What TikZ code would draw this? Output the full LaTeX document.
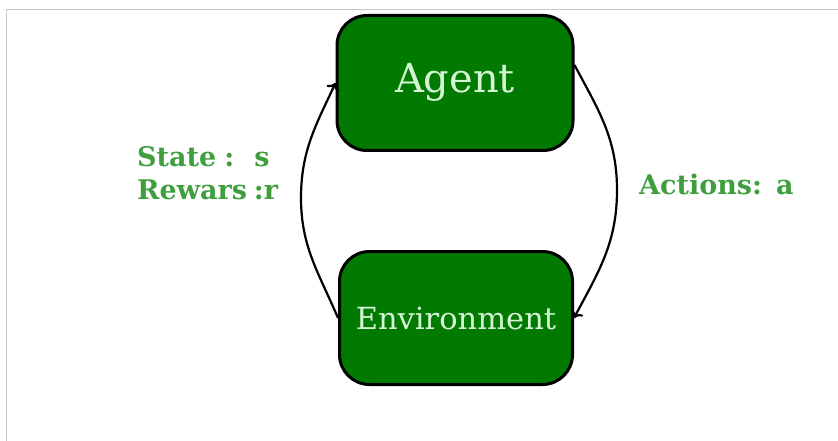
\documentclass[tikz,border=0pt]{standalone}
\usepackage{fontspec}
\setmainfont{DejaVu Serif}
\usetikzlibrary{arrows.meta}
\definecolor{boxgreen}{HTML}{027A02}
\definecolor{boxtext}{HTML}{D4F5D4}
\definecolor{labelgreen}{HTML}{3F9F3F}
\definecolor{framegray}{HTML}{C8C8C8}
\tikzset{
  block/.style={draw=black, line width=3pt, fill=boxgreen, rounded corners=30pt,
    text=boxtext, inner sep=0pt, align=center},
  lbl/.style={text=labelgreen, font=\bfseries\fontsize{27}{30}\selectfont, inner sep=0pt, anchor=base west},
  link/.style={draw=black, line width=2.2pt, -{To[length=7pt,width=14pt]}}
}
\begin{document}
\begin{tikzpicture}[x=1pt,y=-1pt]
\useasboundingbox (0,0) rectangle (838,441);
\draw[framegray, line width=1pt] (6,441) -- (6,10) -- (838,10);
\node[block, minimum width=236pt, minimum height=135pt, font=\fontsize{40}{42}\selectfont] (agent) at (455,83) {\raisebox{10pt}{Agent}};
\node[block, minimum width=233pt, minimum height=133pt, font=\fontsize{30.5}{33}\selectfont] (env) at (456,318) {\raisebox{-6pt}{Environment}};
\coordinate (lmid) at (301,198);
\coordinate (rmid) at (617,190);
\coordinate (aout) at ([yshift=18pt]agent.east);
\draw[link] (env.west) to[out=113,in=-90] (lmid) to[out=90,in=-115] (agent.west);
\draw[link] (aout) to[out=-62,in=90] (rmid) to[out=-90,in=62] (env.east);
\node[lbl] (state) at (137,166) {State\hspace{8pt}:\hspace{20pt}s};
\node[lbl] (reward) at (137,199) {Rewars\hspace{7pt}:r};
\node[lbl] (action) at (639,194) {Actions:\hspace{14pt}a};
\end{tikzpicture}
\end{document}
